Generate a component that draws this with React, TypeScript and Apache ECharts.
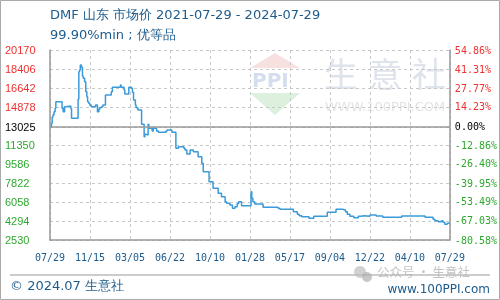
import React, { useEffect, useRef } from "react";
import * as echarts from "echarts";

const titleText = "DMF 山东 市场价 2021-07-29 - 2024-07-29";
const subtitleText = "99.90%min ; 优等品";
const footerLeft = "© 2024.07 生意社";
const footerRight = "www.100PPI.com";
const basePrice = 13025;
const yTicks = [20170, 18406, 16642, 14878, 13025, 11350, 9586, 7822, 6058, 4294, 2530];
const pctTicks = [54.86, 41.31, 27.77, 14.23, 0, -12.86, -26.4, -39.95, -53.49, -67.03, -80.58];
const xLabels = ["07/29", "11/15", "03/05", "06/22", "10/10", "01/28", "05/17", "09/04", "12/22", "04/10", "07/29"];
const totalDays = 1096; // 2021-07-29 .. 2024-07-29

// day offset from 2021-07-29
const days = [
  0, 4, 6, 8, 11, 14, 16, 33, 36, 40, 45, 57, 59, 77, 79, 81, 83, 86, 89, 91, 95, 98, 101, 103, 106, 109, 113,
  125, 130, 134, 136, 141, 145, 152, 168, 171, 193, 195, 203, 205, 216, 223, 226, 229, 234, 236, 241, 251, 258,
  260, 263, 269, 271, 280, 283, 292, 297, 318, 321, 334, 345, 352, 367, 370, 375, 384, 393, 406, 416, 420, 436,
  447, 461, 470, 480, 484, 493, 500, 507, 513, 517, 525, 551, 553, 556, 561, 584, 625, 630, 667, 678, 683, 690,
  710, 723, 760, 784, 802, 810, 815, 822, 833, 845, 854, 860, 877, 894, 912, 964, 1028, 1050, 1055, 1064, 1073,
  1077, 1082, 1089, 1096,
];
const prices = [
  13025, 13363, 13919, 14135, 14444, 14753, 15372, 14753, 14444, 14908, 14970, 14753, 13826, 15589, 18159, 18313,
  18777, 18560, 17756, 17540, 17230, 16301, 15837, 15372, 15218, 15063, 14908, 15063, 14444, 14661, 14815, 14908,
  15063, 15992, 16301, 16704, 16920, 16704, 16456, 16085, 16704, 16611, 16240, 15528, 15063, 14815, 14599, 13268,
  12124, 12340, 12278, 13268, 12897, 12650, 12897, 12650, 12530, 12650, 12742, 12530, 11041, 11193, 11041, 10886,
  10514, 10886, 10731, 10267, 9648, 8875, 7946, 7327, 6863, 6553, 6089, 5934, 5779, 5470, 5625, 5900, 6089, 5717,
  7017, 6401, 6089, 5872, 5563, 5470, 5377, 5160, 4913, 4789, 4696, 4542, 4727, 5099, 5377, 5315, 5160, 4913, 4727,
  4603, 4727, 4789, 4727, 4851, 4758, 4634, 4758, 4634, 4449, 4325, 4232, 4325, 4170, 3984, 4077, 4077,
];

const RED = "#f03030";
const GREEN = "#2fa82f";
const BLUE_TEXT = "#1d5b8c";

export default function App() {
  const ref = useRef<HTMLDivElement>(null);
  useEffect(() => {
    if (!ref.current) return;
    const chart = echarts.init(ref.current, undefined, { renderer: "svg" });
    const step = totalDays / 10;
    const wm = "#dfe4ec";
    chart.setOption({
      animation: false,
      grid: { left: 50, right: 50, top: 50, bottom: 60 },
      xAxis: {
        type: "value",
        min: 0,
        max: totalDays,
        interval: step,
        axisLine: { show: true, onZero: false, lineStyle: { color: "#999", width: 1.5 } },
        axisTick: { show: false },
        splitLine: { show: true, lineStyle: { color: "#c8c8c8", type: [3, 3], width: 1 } },
        axisLabel: {
          margin: 12,
          color: BLUE_TEXT,
          fontFamily: "DejaVu Sans Mono",
          fontSize: 10,
          showMaxLabel: true,
          formatter: (v: number) => xLabels[Math.round(v / step)] ?? "",
        },
      },
      yAxis: [
        {
          type: "value",
          position: "left",
          min: 2530,
          max: 20170,
          axisLine: { show: true, lineStyle: { color: "#999", width: 1.5 } },
          axisTick: { show: false, customValues: yTicks },
          splitLine: { show: true, lineStyle: { color: "#c8c8c8", type: [3, 3], width: 1 } },
          axisLabel: {
            customValues: yTicks,
            align: "left",
            margin: 45,
            fontFamily: "Liberation Sans",
            fontSize: 11,
            formatter: (v: number) => String(v),
            color: (v: any) => {
              const n = Number(v);
              return n > basePrice ? RED : n < basePrice ? GREEN : "#000";
            },
          },
        },
        {
          type: "value",
          position: "right",
          min: -80.58,
          max: 54.86,
          axisLine: { show: true, lineStyle: { color: "#999", width: 1.5 } },
          axisTick: { show: false, customValues: pctTicks },
          splitLine: { show: false },
          axisLabel: {
            customValues: pctTicks,
            margin: 5,
            fontFamily: "DejaVu Sans Mono",
            fontSize: 10,
            formatter: (v: number) => Number(v).toFixed(2) + "%",
            color: (v: any) => {
              const n = Number(v);
              return n > 0 ? RED : n < 0 ? GREEN : "#000";
            },
          },
        },
      ],
      graphic: [
        { type: "rect", shape: { x: 0.5, y: 0.5, width: 499, height: 299 }, style: { fill: "none", stroke: "#aaa", lineWidth: 1 }, z: 0, silent: true },
        { type: "text", x: 50, y: 8, style: { text: titleText, fill: BLUE_TEXT, fontFamily: "DejaVu Sans", fontSize: 13 }, silent: true },
        { type: "text", x: 50, y: 28, style: { text: subtitleText, fill: BLUE_TEXT, fontFamily: "DejaVu Sans", fontSize: 13 }, silent: true },
        // watermark logo
        { type: "polygon", shape: { points: [[275, 53], [300, 68], [250, 68]] }, style: { fill: "#f7e0e0" }, z: -1, silent: true },
        { type: "text", x: 252, y: 70, style: { text: "PPI", fill: "#d5deee", fontFamily: "DejaVu Sans", fontSize: 20, fontWeight: "bold" }, z: -1, silent: true },
        { type: "polygon", shape: { points: [[250, 93], [300, 93], [275, 115]] }, style: { fill: "#ddf0dd" }, z: -1, silent: true },
        { type: "text", x: 324, y: 55, style: { text: "生", fill: wm, fontFamily: "Noto Sans CJK SC", fontSize: 34 }, z: -1, silent: true },
        { type: "text", x: 368, y: 55, style: { text: "意", fill: wm, fontFamily: "Noto Sans CJK SC", fontSize: 34 }, z: -1, silent: true },
        { type: "text", x: 412, y: 55, style: { text: "社", fill: wm, fontFamily: "Noto Sans CJK SC", fontSize: 34 }, z: -1, silent: true },
        { type: "text", x: 325, y: 100, style: { text: "WWW.100PPI.COM", fill: "#e3e3e3", fontFamily: "DejaVu Sans", fontSize: 13 }, z: -1, silent: true },
        // footer
        { type: "line", shape: { x1: 10, y1: 275, x2: 490, y2: 275 }, style: { stroke: "#999", lineWidth: 1 }, silent: true },
        { type: "text", x: 10, y: 279, style: { text: footerLeft, fill: BLUE_TEXT, fontFamily: "DejaVu Sans", fontSize: 13 }, silent: true },
        { type: "text", x: 490, y: 283, style: { text: footerRight, fill: BLUE_TEXT, fontFamily: "DejaVu Sans", fontSize: 12, align: "right" }, silent: true },
        // wechat overlay
        { type: "circle", shape: { cx: 360, cy: 272, r: 6 }, style: { fill: "rgba(190,190,190,0.7)" }, silent: true },
        { type: "circle", shape: { cx: 367, cy: 277, r: 5 }, style: { fill: "rgba(175,175,175,0.7)" }, silent: true },
        { type: "text", x: 377, y: 265, style: { text: "公众号 · 生意社", fill: "rgba(180,180,180,0.8)", fontFamily: "Noto Sans CJK SC", fontSize: 12.5 }, silent: true },
      ],
      series: [
        {
          type: "line",
          step: "end",
          xAxisIndex: 0,
          yAxisIndex: 0,
          symbol: "none",
          data: days.map((d, i) => [d, prices[i]]),
          lineStyle: { color: "#3b9ad9", width: 1.5 },
          markLine: {
            silent: true,
            symbol: ["none", "none"],
            label: { show: false },
            lineStyle: { color: "#999", type: "solid", width: 1.5 },
            data: [{ yAxis: basePrice }],
          },
        },
      ],
    });
    return () => chart.dispose();
  }, []);
  return <div ref={ref} style={{ position: "fixed", left: 0, top: 0, width: 500, height: 300 }} />;
}
